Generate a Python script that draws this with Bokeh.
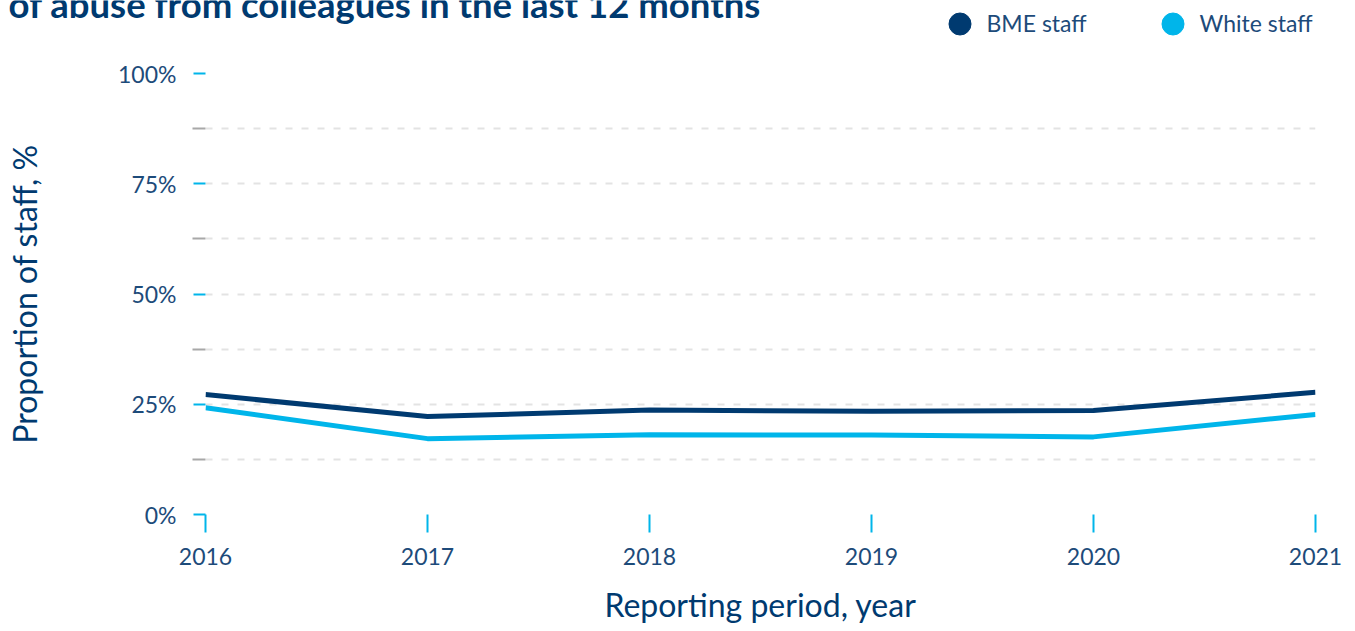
from bokeh.plotting import figure
from bokeh.models import (FixedTicker, Label, Legend, LegendItem, Range1d,
                          PrintfTickFormatter, ColumnDataSource)
from bokeh.embed import file_html
from bokeh.resources import INLINE

# ---- data ----
years = [2016, 2017, 2018, 2019, 2020, 2021]
bme_staff = [27.2, 22.2, 23.7, 23.4, 23.6, 27.7]
white_staff = [24.2, 17.2, 18.1, 18.0, 17.6, 22.7]
y_major_ticks = [0, 25, 50, 75, 100]
y_minor_ticks = [12.5, 37.5, 62.5, 87.5]
series_names = ["BME staff", "White staff"]
title_text = "of abuse from colleagues in the last 12 months"
x_title = "Reporting period, year"
y_title = "Proportion of staff, %"

NAVY = "#003a70"
CYAN = "#00b5ea"
TEXT = "#1d4b7a"
FONT = "Lato"
W = 1345
HEAD_H = 50
MAIN_H = 580

src = ColumnDataSource(dict(year=years, bme=bme_staff, white=white_staff))

# ---------- header: title + legend ----------
head = figure(width=W, height=HEAD_H, output_backend="svg", toolbar_location=None,
              x_range=Range1d(2016, 2021), y_range=Range1d(0, 100),
              x_axis_type=None, y_axis_type=None, min_border=0,
              outline_line_color=None, title=None)
head.grid.visible = False
h1 = head.scatter("year", "bme", source=src, marker="circle", color=NAVY, size=22, visible=False)
h2 = head.scatter("year", "white", source=src, marker="circle", color=CYAN, size=22, visible=False)
legend = Legend(items=[LegendItem(label=series_names[0], renderers=[h1]),
                       LegendItem(label=series_names[1], renderers=[h2])],
                location=(931.5, -0.5), orientation="horizontal",
                glyph_width=55, glyph_height=55, label_standoff=0, label_width=150,
                spacing=8, padding=0, margin=0, border_line_color=None,
                background_fill_alpha=0, label_text_font=FONT,
                label_text_font_size="23px", label_text_color=TEXT, click_policy="none")
head.add_layout(legend)
head.add_layout(Label(x=8, y=47, x_units="screen", y_units="screen", text=title_text,
                      text_font=FONT, text_font_style="bold", text_font_size="36.5px",
                      text_color=NAVY, text_baseline="alphabetic", text_align="left"))

# ---------- main chart ----------
p = figure(width=W, height=MAIN_H, output_backend="svg", toolbar_location=None,
           x_range=Range1d(2016, 2021), y_range=Range1d(0, 100), title=None,
           min_border_left=205, min_border_right=30, min_border_top=23,
           min_border_bottom=116, outline_line_color=None)

p.xgrid.grid_line_color = None
p.ygrid.grid_line_color = "#e3e3e3"
p.ygrid.grid_line_width = 2
p.ygrid.grid_line_dash = "7 9"
p.ygrid.minor_grid_line_color = "#e3e3e3"
p.ygrid.minor_grid_line_width = 2
p.ygrid.minor_grid_line_dash = "7 9"

ya = p.yaxis[0]
ya.ticker = FixedTicker(ticks=y_major_ticks, minor_ticks=y_minor_ticks)
ya.formatter = PrintfTickFormatter(format="%d%%")
ya.axis_line_color = None
ya.major_tick_line_color = CYAN
ya.major_tick_line_width = 2
ya.major_tick_out = 12
ya.major_tick_in = 0
ya.minor_tick_line_color = "#a8a8a8"
ya.minor_tick_line_width = 2
ya.minor_tick_out = 13
ya.minor_tick_in = 0
ya.major_label_standoff = 16
ya.major_label_text_font = FONT
ya.major_label_text_font_size = "23px"
ya.major_label_text_color = TEXT
ya.axis_label = y_title
ya.axis_label_text_font = FONT
ya.axis_label_text_font_size = "32px"
ya.axis_label_text_font_style = "normal"
ya.axis_label_text_color = NAVY
ya.axis_label_standoff = 71

xa = p.xaxis[0]
xa.ticker = FixedTicker(ticks=years)
xa.axis_line_color = None
xa.major_tick_line_color = CYAN
xa.major_tick_line_width = 2
xa.major_tick_out = 18
xa.major_tick_in = 0
xa.minor_tick_line_color = None
xa.major_label_standoff = 15
xa.major_label_text_font = FONT
xa.major_label_text_font_size = "23px"
xa.major_label_text_color = TEXT
xa.axis_label = x_title
xa.axis_label_text_font = FONT
xa.axis_label_text_font_size = "32px"
xa.axis_label_text_font_style = "normal"
xa.axis_label_text_color = NAVY
xa.axis_label_standoff = 17

p.line("year", "bme", source=src, line_color=NAVY, line_width=5)
p.line("year", "white", source=src, line_color=CYAN, line_width=5)

open("out.html", "w").write(file_html([head, p], INLINE))
